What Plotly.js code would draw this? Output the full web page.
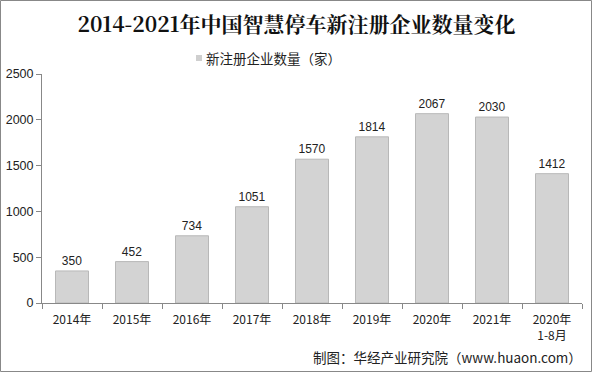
<!DOCTYPE html>
<html><head><meta charset="utf-8">
<script src="https://cdn.plot.ly/plotly-3.0.1.min.js"></script>
<style>html,body{margin:0;padding:0;background:#fff}#c{width:593px;height:372px}</style>
</head><body><div id="c"></div>
<script>
var categories = ['2014年','2015年','2016年','2017年','2018年','2019年','2020年','2021年','2020年<br>1-8月'];
var values = [350, 452, 734, 1051, 1570, 1814, 2067, 2030, 1412];
var tickVals = [0, 500, 1000, 1500, 2000, 2500];
var seriesName = '新注册企业数量（家）';

var trace = {
  type: 'bar', x: categories, y: values, name: seriesName,
  marker: {color: '#d3d3d3', line: {color: '#b8b8b8', width: 1}},
  text: values.map(String), textposition: 'outside', cliponaxis: false,
  textfont: {family: 'Liberation Sans, Arial, sans-serif', size: 12, color: '#222'},
  showlegend: false
};
var W = 540, H = 229;
var layout = {
  width: 593, height: 372,
  margin: {l: 42, r: 11, t: 74, b: 69},
  paper_bgcolor: '#fff', plot_bgcolor: '#fff',
  bargap: 0.45,
  font: {family: 'Liberation Sans, Arial, sans-serif', size: 12, color: '#222'},
  title: {text: '<b>2014-2021年中国智慧停车新注册企业数量变化</b>', x: 0.5, xanchor: 'center', y: 0.935, yanchor: 'middle',
    font: {family: 'Noto Serif CJK SC, Noto Sans CJK SC, serif', size: 21, color: '#111'}},
  xaxis: {showline: true, linecolor: '#888', ticks: 'outside', tickcolor: '#888', ticklen: 5,
    tickson: 'boundaries', showgrid: false, ticklabelstandoff: 6,
    tickfont: {size: 12, family: 'Noto Sans CJK SC, sans-serif'}},
  yaxis: {range: [0, 2500], tickvals: tickVals, showline: true, linecolor: '#888', ticks: 'outside',
    tickcolor: '#888', ticklen: 5, showgrid: false, zeroline: false, tickfont: {size: 12.5}},
  shapes: [
    {type: 'rect', xref: 'paper', yref: 'paper', x0: -41.5/W, x1: 1 + 9.5/W, y0: -68.5/H, y1: 1 + 73.5/H,
      line: {color: '#888', width: 1}},
    {type: 'rect', xref: 'paper', yref: 'paper', x0: 154/W, x1: 160/W, y0: (303-55)/H, y1: (303-61)/H,
      fillcolor: '#cfcfcf', line: {width: 0}}
  ],
  annotations: [
    {text: seriesName, xref: 'paper', yref: 'paper', x: 162/W, y: (303-58)/H,
      xanchor: 'left', yanchor: 'middle', showarrow: false,
      font: {family: 'Noto Sans CJK SC, sans-serif', size: 13.5, color: '#222'}},
    {text: '制图：华经产业研究院（www.huaon.com）', xref: 'paper', yref: 'paper', x: 1 + 2/W, y: -54/H,
      xanchor: 'right', yanchor: 'middle', showarrow: false,
      font: {family: 'Noto Sans CJK SC, sans-serif', size: 13.5, color: '#222'}}]
};
Plotly.newPlot('c', [trace], layout, {displayModeBar: false, staticPlot: true});
</script></body></html>
